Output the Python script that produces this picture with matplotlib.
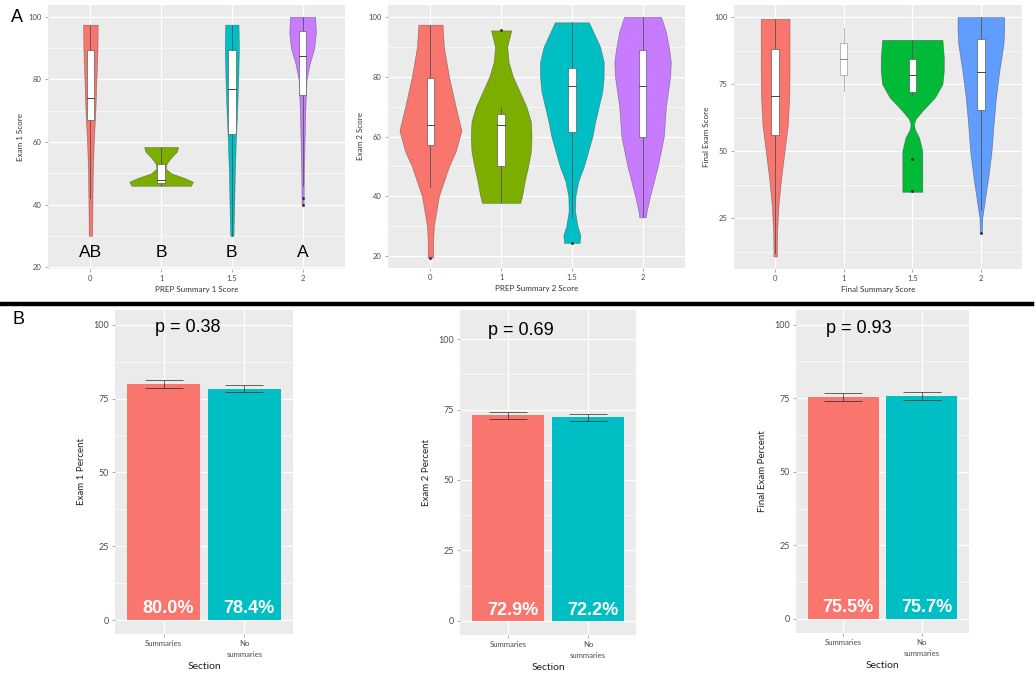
import numpy as np
import matplotlib
matplotlib.use("Agg")
from matplotlib import pyplot as plt
from matplotlib.patches import Rectangle

W, H = 1036, 683

# ---- top row: violin profiles (score, half width in category units) ----
cats = ['0', '1', '1.5', '2']

a1_y = [[30, 40, 50, 60, 70, 80, 90, 97.5],
        [46, 47.3, 48.5, 50, 51.5, 53, 55, 57, 58.4],
        [30, 40, 50, 60, 70, 80, 90, 97.5],
        [40, 50, 60, 70, 80, 85, 90, 95, 100]]
a1_w = [[0.023, 0.028, 0.033, 0.047, 0.07, 0.085, 0.10, 0.103],
        [0.42, 0.45, 0.33, 0.14, 0.066, 0.075, 0.14, 0.225, 0.24],
        [0.023, 0.033, 0.042, 0.056, 0.075, 0.09, 0.10, 0.094],
        [0.014, 0.019, 0.028, 0.038, 0.056, 0.10, 0.165, 0.188, 0.178]]
a1_q1 = [67, 47, 62.5, 75]
a1_med = [74, 48, 77, 87.5]
a1_q3 = [89.5, 53, 89.5, 95.5]
a1_lo = [42, 46, 30, 46]
a1_hi = [97.5, 58.4, 97.5, 100]
a1_out = [[], [], [], [42, 40]]
a1_letters = ['AB', 'B', 'B', 'A']

a2_y = [[19.5, 25, 30, 40, 50, 55, 62, 70, 80, 90, 97.4],
        [37.8, 40, 45, 50, 55, 60, 65, 70, 75, 80, 85, 90, 95.5],
        [24.4, 27, 30, 35, 40, 45, 50, 55, 60, 65, 70, 75, 80, 85, 90, 98.2],
        [33, 35, 40, 50, 60, 70, 75, 80, 85, 90, 95, 100]]
a2_w = [[0.038, 0.038, 0.048, 0.119, 0.262, 0.357, 0.438, 0.357, 0.262, 0.19, 0.171],
        [0.27, 0.295, 0.333, 0.381, 0.42, 0.43, 0.42, 0.357, 0.262, 0.167, 0.105, 0.086, 0.143],
        [0.11, 0.12, 0.08, 0.045, 0.05, 0.09, 0.17, 0.23, 0.29, 0.33, 0.38, 0.43, 0.45, 0.45, 0.40, 0.24],
        [0.048, 0.057, 0.105, 0.214, 0.30, 0.33, 0.36, 0.39, 0.40, 0.37, 0.33, 0.262]]
a2_q1 = [57, 50, 61.5, 60]
a2_med = [64, 64, 77, 77]
a2_q3 = [79.5, 67.5, 83, 89]
a2_lo = [43, 37.8, 33, 33]
a2_hi = [97.4, 70, 98.2, 100]
a2_out = [[19.5], [95.5], [24.4], []]

a3_y = [[10.7, 20, 30, 40, 50, 60, 70, 80, 90, 99.3],
        None,
        [34.8, 40, 45, 50, 55, 58, 60, 62, 65, 67, 70, 75, 80, 85, 91.5],
        [19.5, 25, 30, 40, 50, 60, 70, 80, 85, 90, 95, 100]]
a3_w = [[0.024, 0.029, 0.049, 0.088, 0.137, 0.185, 0.205, 0.21, 0.21, 0.21],
        None,
        [0.146, 0.146, 0.146, 0.146, 0.10, 0.039, 0.024, 0.049, 0.146, 0.22, 0.33, 0.44, 0.46, 0.46, 0.44],
        [0.015, 0.02, 0.049, 0.107, 0.156, 0.185, 0.22, 0.27, 0.30, 0.33, 0.34, 0.34]]
a3_q1 = [56, 78.5, 72, 65.5]
a3_med = [70.5, 84.5, 78.5, 79.5]
a3_q3 = [88, 90.5, 84.5, 92]
a3_lo = [12, 72.5, 71, 28]
a3_hi = [99.3, 96, 91.5, 100]
a3_out = [[], [], [47, 35], [19.5]]

# ---- bottom row: bar charts ----
sections = ['Summaries', 'No\nsummaries']
exam1_pct = [80.0, 78.4]
exam2_pct = [72.9, 72.2]
final_pct = [75.5, 75.7]
exam1_se = [1.3, 1.3]
exam2_se = [1.3, 1.3]
final_se = [1.4, 1.4]
p_values = ['0.38', '0.69', '0.93']

hue4 = ['#F8766D', '#7CAE00', '#00BFC4', '#C77CFF']
hue3 = ['#F8766D', None, '#00BA38', '#619CFF']
bar_cols = ['#F8766D', '#00BFC4']

AX_FONT = 'Lato'
ANN_FONT = 'Liberation Sans'

fig = plt.figure(figsize=(W / 100, H / 100), dpi=100)


def px_axes(l, t, r, b):
    return fig.add_axes([l / W, 1 - b / H, (r - l) / W, (b - t) / H])


def gg_theme(ax, yticks, yminor, tsize, lsize):
    ax.set_facecolor('#EBEBEB')
    for s in ax.spines.values():
        s.set_visible(False)
    ax.set_yticks(yticks)
    ax.set_yticks(yminor, minor=True)
    ax.grid(True, which='major', color='white', lw=0.9, zorder=0)
    ax.grid(True, which='minor', axis='y', color='white', lw=0.45, zorder=0)
    ax.set_axisbelow(True)
    ax.tick_params(which='major', length=2.5, width=0.5, color='#888888',
                   labelcolor='#4D4D4D', labelsize=tsize, pad=2)
    ax.tick_params(which='minor', length=0)
    for lab in ax.get_xticklabels() + ax.get_yticklabels():
        lab.set_fontfamily(AX_FONT)


def violin_panel(box, ylim, yticks, yminor, ys, ws, q1, med, q3, lo, hi, outs,
                 cols, xlabel, ylabel, letters=None):
    ax = px_axes(*box)
    ax.set_xlim(0.4, 4.6)
    ax.set_ylim(*ylim)
    ax.set_xticks(range(1, 5))
    ax.set_xticklabels(cats)
    gg_theme(ax, yticks, yminor, 5.5, 5.5)
    for i in range(4):
        x = i + 1
        if ys[i] is not None:
            y = np.array(ys[i])
            w = np.array(ws[i])
            ax.fill_betweenx(y, x - w, x + w, facecolor=cols[i],
                             edgecolor=(0.2, 0.2, 0.2, 0.45), lw=0.5, zorder=2)
            wc = '#555555'
            bc = '#444444'
        else:
            wc = '#AAAAAA'
            bc = '#888888'
        ax.plot([x, x], [lo[i], q1[i]], color=wc, lw=0.6, zorder=3)
        ax.plot([x, x], [q3[i], hi[i]], color=wc, lw=0.6, zorder=3)
        ax.add_patch(Rectangle((x - 0.055, q1[i]), 0.11, q3[i] - q1[i],
                               facecolor='white', edgecolor=bc, lw=0.4, zorder=4))
        ax.plot([x - 0.055, x + 0.055], [med[i], med[i]], color=bc, lw=0.7, zorder=5)
        if outs[i]:
            ax.scatter([x] * len(outs[i]), outs[i], s=1.2, color='#333333', zorder=5)
    if letters:
        for i, t in enumerate(letters):
            ax.text(i + 1, 24.8, t, ha='center', va='center', fontsize=12.5,
                    fontfamily=ANN_FONT, color='black', zorder=6)
    ax.set_xlabel(xlabel, fontsize=5.8, fontfamily=AX_FONT, color='#333333', labelpad=3)
    ax.set_ylabel(ylabel, fontsize=5.8, fontfamily=AX_FONT, color='#333333', labelpad=3)
    return ax


violin_panel((48, 5, 345, 269), (19.4, 103.8), [20, 40, 60, 80, 100], [30, 50, 70, 90],
             a1_y, a1_w, a1_q1, a1_med, a1_q3, a1_lo, a1_hi, a1_out, hue4,
             'PREP Summary 1 Score', 'Exam 1 Score', a1_letters)
violin_panel((388, 5, 685, 268), (16, 104), [20, 40, 60, 80, 100], [30, 50, 70, 90],
             a2_y, a2_w, a2_q1, a2_med, a2_q3, a2_lo, a2_hi, a2_out, hue4,
             'PREP Summary 2 Score', 'Exam 2 Score')
violin_panel((734, 5, 1022, 269), (6, 104.5), [25, 50, 75, 100], [12.5, 37.5, 62.5, 87.5],
             a3_y, a3_w, a3_q1, a3_med, a3_q3, a3_lo, a3_hi, a3_out, hue3,
             'Final Summary Score', 'Final Exam Score')


def bar_panel(box, ylim, vals, se, pval, pxy, ylabel):
    ax = px_axes(*box)
    ax.set_xlim(0.4, 2.6)
    ax.set_ylim(*ylim)
    ax.set_xticks([1, 2])
    ax.set_xticklabels(sections)
    gg_theme(ax, [0, 25, 50, 75, 100], [12.5, 37.5, 62.5, 87.5], 6.5, 7)
    for lab in ax.get_xticklabels():
        lab.set_fontsize(5.6)
        lab.set_linespacing(1.6)
    xs = np.arange(1, 3)
    ax.bar(xs, vals, width=0.9, color=bar_cols, zorder=2)
    ax.errorbar(xs, vals, yerr=se, fmt='none', ecolor=(0.15, 0.15, 0.15, 0.7),
                elinewidth=0.7, capsize=14, capthick=0.7, zorder=3)
    for x, v in zip(xs, vals):
        ax.text(x + 0.06, 3.8, f'{v:.1f}%', ha='center', va='center', color='white',
                fontsize=13, fontweight='bold', fontfamily=ANN_FONT, zorder=4)
    ax.text(pxy[0], pxy[1], f'p = {pval}', ha='center', va='center', fontsize=13,
            fontfamily=ANN_FONT, color='black', zorder=4)
    ax.set_xlabel('Section', fontsize=7.5, fontfamily=AX_FONT, color='#222222', labelpad=3)
    ax.set_ylabel(ylabel, fontsize=7, fontfamily=AX_FONT, color='#222222', labelpad=5)
    return ax


bar_panel((115, 310, 293, 634), (-4.7, 105), exam1_pct, exam1_se, p_values[0],
          (1.3, 99), 'Exam 1 Percent')
bar_panel((460, 310, 636, 635), (-5, 110.3), exam2_pct, exam2_se, p_values[1],
          (1.16, 103), 'Exam 2 Percent')
bar_panel((796, 310, 969, 633), (-4.8, 105), final_pct, final_se, p_values[2],
          (1.2, 98.6), 'Final Exam Percent')

# separator and panel letters
fig.add_artist(plt.Line2D([0, 1032 / W], [1 - 303.8 / H, 1 - 303.8 / H],
                          color='black', lw=3.2))
fig.text(17 / W, 1 - 18 / H, 'A', fontsize=13, fontfamily=ANN_FONT, ha='center', va='center')
fig.text(18 / W, 1 - 319 / H, 'B', fontsize=13, fontfamily=ANN_FONT, ha='center', va='center')

fig.savefig('out.png', dpi=100, facecolor='white')
